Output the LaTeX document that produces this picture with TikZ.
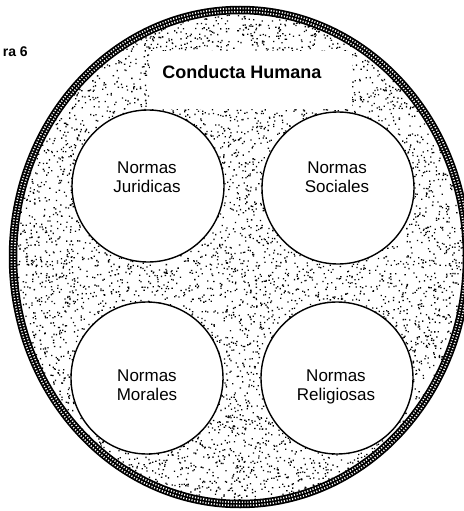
\documentclass[tikz,border=0pt]{standalone}
\usepackage{fontspec}
\setmainfont{Liberation Sans}

\tikzset{
  normcircle/.style={circle, draw=black, line width=1.4pt, fill=white,
    minimum size=152pt, inner sep=0pt},
  normtext/.style={align=center, inner sep=0pt,
    font=\fontsize{17}{19.5}\selectfont},
  titletext/.style={inner sep=0pt, font=\bfseries\fontsize{18}{20}\selectfont},
  figtext/.style={inner sep=0pt, anchor=east, font=\bfseries\fontsize{14}{16}\selectfont},
  titlebox/.style={fill=white, draw=none, minimum width=202pt,
    minimum height=58pt, inner sep=0pt},
  ringdark/.style={draw=black, line width=8.5pt},
  ringholes/.style={draw=white, line width=5pt, dash pattern=on 1.1pt off 1.7pt},
  ringcore/.style={draw=black, line width=1.5pt},
}

\begin{document}
\begin{tikzpicture}[x=1pt, y=-1pt]
  \useasboundingbox (0,0) rectangle (463,511);
  \fill[white] (0,0) rectangle (463,511);

  % outline of the whole domain
  \path[save path=\outerring] (240,257) ellipse [x radius=227, y radius=247];

  % stippled background of the domain, drawn in small batches
  \begin{scope}
    \path[clip, use path=\outerring];
    \pgfmathsetseed{2718}
    \foreach \batch in {1,...,95}{
      \fill[black]
        \foreach \i in {1,...,100}{
          (rnd*463, rnd*511) rectangle ++(1.3,1.3)
        };
    }
  \end{scope}

  % title
  \node[titlebox] (box) at (251,80) {};
  \node[titletext] (title) at (242,72) {Conducta Humana};

  % the four kinds of norms
  \node[normcircle] (jur) at (148,186) {};
  \node[normcircle] (soc) at (338,188) {};
  \node[normcircle] (mor) at (147,378) {};
  \node[normcircle] (rel) at (337,378) {};

  \node[normtext] (jurtxt) at (147,177) {Normas\\Juridicas};
  \node[normtext] (soctxt) at (337,177) {Normas\\Sociales};
  \node[normtext] (mortxt) at (147,385) {Normas\\Morales};
  \node[normtext] (reltxt) at (336,387) {Normas\\Religiosas};

  % halftone border of the domain
  \path[ringdark, use path=\outerring];
  \path[ringholes, use path=\outerring];
  \path[ringcore, use path=\outerring];

  \node[figtext] (fig) at (28,52) {ra 6};
\end{tikzpicture}
\end{document}
